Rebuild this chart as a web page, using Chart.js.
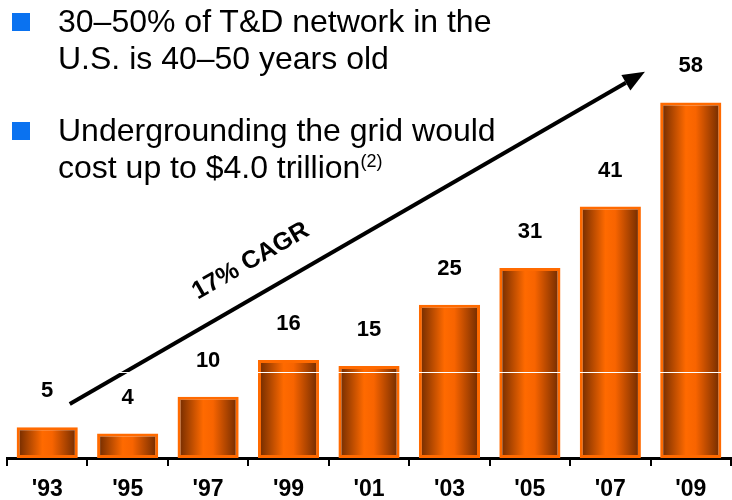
<!DOCTYPE html>
<html>
<head>
<meta charset="utf-8">
<script src="https://cdn.jsdelivr.net/npm/chart.js@4.4.1/dist/chart.umd.min.js"></script>
<style>
    body { margin: 0; background: #fff; overflow: hidden; }
    .wrap { position: relative; width: 732px; height: 500px; overflow: hidden; }
    canvas { position: absolute; left: 0; top: 0; }
    .bullet { position: absolute; left: 58px; font-family: "Liberation Sans", Arial, sans-serif; font-size: 32px; line-height: 37px; color: #000; white-space: nowrap; }
    .bullet::before { content: ""; position: absolute; left: -46px; top: 10px; width: 18px; height: 18px; background: #0a72f0; }
    .bullet sup { font-size: 18px; vertical-align: 11px; line-height: 0; }
</style>
</head>
<body>
<div class="wrap">
    <!-- canvas a bit taller than the window so the tick labels sit lower -->
    <canvas id="barChart" width="732" height="513"></canvas>
    <div class="bullet" style="top: 3px;">30–50% of T&amp;D network in the<br>U.S. is 40–50 years old</div>
    <div class="bullet" style="top: 112px;">Undergrounding the grid would<br>cost up to $4.0 trillion<sup>(2)</sup></div>
</div>
<script>
let years = ["'93", "'95", "'97", "'99", "'01", "'03", "'05", "'07", "'09"];
let values = [5, 4, 10, 16, 15, 25, 31, 41, 58];

// arrow ends in [category index, value], label in the same units
let arrowStart = [0.28, 8.8];
let arrowEnd = [7.43, 63];
let cagrAt = [2.53, 32.1];
let cagrText = '17% CAGR';
let whiteLineAt = 14;

let font = '"Liberation Sans", Arial, sans-serif';

function barGradient(context) {
    let chart = context.chart;
    let area = chart.chartArea;
    if (!area) {
        return '#ff6600';
    }
    let xScale = chart.scales.x;
    let center = xScale.getPixelForValue(context.dataIndex);
    let half = (area.width / years.length) * 0.76 / 2;
    let g = chart.ctx.createLinearGradient(center - half, 0, center + half, 0);
    g.addColorStop(0, '#6a2800');
    g.addColorStop(0.42, '#ff6a00');
    g.addColorStop(0.58, '#f86400');
    g.addColorStop(1, '#6a2800');
    return g;
}

let extras = {
    id: 'extras',
    afterDatasetsDraw(chart) {
        let ctx = chart.ctx;
        let xs = chart.scales.x;
        let ys = chart.scales.y;
        let area = chart.chartArea;

        // value labels
        ctx.save();
        ctx.fillStyle = '#000';
        ctx.font = 'bold 22px ' + font;
        ctx.textAlign = 'center';
        ctx.textBaseline = 'middle';
        chart.getDatasetMeta(0).data.forEach((bar, i) => {
            ctx.fillText(values[i], bar.x, bar.y - 36);
        });

        // CAGR arrow
        let x1 = xs.getPixelForValue(arrowStart[0]);
        let y1 = ys.getPixelForValue(arrowStart[1]);
        let x2 = xs.getPixelForValue(arrowEnd[0]);
        let y2 = ys.getPixelForValue(arrowEnd[1]);
        let angle = Math.atan2(y2 - y1, x2 - x1);
        let headLen = 22;
        let headHalf = 9;
        let bx = x2 - headLen * Math.cos(angle);
        let by = y2 - headLen * Math.sin(angle);
        ctx.strokeStyle = '#000';
        ctx.lineWidth = 4;
        ctx.beginPath();
        ctx.moveTo(x1, y1);
        ctx.lineTo(bx, by);
        ctx.stroke();
        ctx.beginPath();
        ctx.moveTo(x2, y2);
        ctx.lineTo(bx + headHalf * Math.sin(angle), by - headHalf * Math.cos(angle));
        ctx.lineTo(bx - headHalf * Math.sin(angle), by + headHalf * Math.cos(angle));
        ctx.closePath();
        ctx.fill();

        // rotated label
        ctx.translate(xs.getPixelForValue(cagrAt[0]), ys.getPixelForValue(cagrAt[1]));
        ctx.rotate(angle);
        ctx.font = 'bold 25px ' + font;
        ctx.fillText(cagrText, 0, 0);
        ctx.restore();

        // thin white line across everything
        ctx.save();
        let wy = Math.round(ys.getPixelForValue(whiteLineAt)) + 0.5;
        ctx.strokeStyle = '#fff';
        ctx.lineWidth = 1;
        ctx.beginPath();
        ctx.moveTo(area.left, wy);
        ctx.lineTo(area.right, wy);
        ctx.stroke();
        ctx.restore();
    }
};

let chart = new Chart(document.getElementById('barChart').getContext('2d'), {
    type: 'bar',
    data: {
        labels: years,
        datasets: [{
            data: values,
            backgroundColor: barGradient,
            borderColor: '#ff6a00',
            borderWidth: 3,
            borderSkipped: false,
            categoryPercentage: 1,
            barPercentage: 0.76
        }]
    },
    options: {
        responsive: false,
        animation: false,
        devicePixelRatio: 1,
        layout: { padding: { left: 7, right: 1, top: 0, bottom: 0 } },
        plugins: {
            legend: { display: false },
            tooltip: { enabled: false }
        },
        scales: {
            x: {
                grid: {
                    display: true,
                    offset: true,
                    drawOnChartArea: false,
                    drawTicks: true,
                    tickLength: 8,
                    color: '#000',
                    lineWidth: 2
                },
                border: { display: true, color: '#000', width: 3 },
                ticks: {
                    color: '#000',
                    padding: 9.7,
                    font: { family: font, size: 23, weight: 'bold' }
                }
            },
            y: {
                display: false,
                min: 0,
                max: 74.7
            }
        }
    },
    plugins: [extras]
});
</script>
</body>
</html>
